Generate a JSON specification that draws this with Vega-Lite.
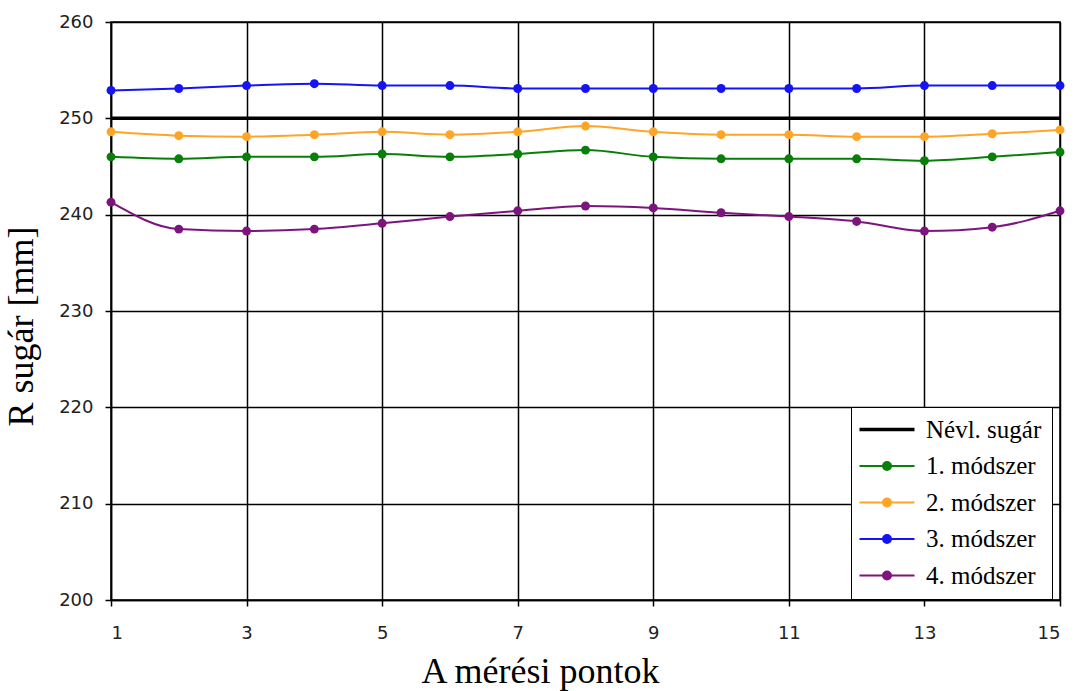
{
  "$schema": "https://vega.github.io/schema/vega-lite/v6.json",
  "width": 949,
  "height": 578,
  "autosize": "none",
  "padding": {"left": 111, "top": 22, "right": 18, "bottom": 91},
  "background": "white",
  "config": {
    "view": {"stroke": "black", "strokeWidth": 1.5},
    "axis": {
      "grid": true, "gridColor": "black", "gridWidth": 1.5, "gridOpacity": 1,
      "domainColor": "black", "domainWidth": 1.5,
      "tickColor": "black", "tickSize": 6, "tickWidth": 1.5,
      "labelFont": "DejaVu Sans", "labelFontSize": 18, "labelColor": "#222",
      "titleFont": "Liberation Serif", "titleFontSize": 36, "titleFontWeight": "normal", "titleColor": "black"
    }
  },
  "data": {"values": [
    {"pont": 1, "sorozat": "Névl. sugár", "R": 250},
    {"pont": 15, "sorozat": "Névl. sugár", "R": 250},
    {"pont": 1, "sorozat": "1. módszer", "R": 246.0},
    {"pont": 2, "sorozat": "1. módszer", "R": 245.8},
    {"pont": 3, "sorozat": "1. módszer", "R": 246.0},
    {"pont": 4, "sorozat": "1. módszer", "R": 246.0},
    {"pont": 5, "sorozat": "1. módszer", "R": 246.3},
    {"pont": 6, "sorozat": "1. módszer", "R": 246.0},
    {"pont": 7, "sorozat": "1. módszer", "R": 246.3},
    {"pont": 8, "sorozat": "1. módszer", "R": 246.7},
    {"pont": 9, "sorozat": "1. módszer", "R": 246.0},
    {"pont": 10, "sorozat": "1. módszer", "R": 245.8},
    {"pont": 11, "sorozat": "1. módszer", "R": 245.8},
    {"pont": 12, "sorozat": "1. módszer", "R": 245.8},
    {"pont": 13, "sorozat": "1. módszer", "R": 245.6},
    {"pont": 14, "sorozat": "1. módszer", "R": 246.0},
    {"pont": 15, "sorozat": "1. módszer", "R": 246.5},
    {"pont": 1, "sorozat": "2. módszer", "R": 248.6},
    {"pont": 2, "sorozat": "2. módszer", "R": 248.2},
    {"pont": 3, "sorozat": "2. módszer", "R": 248.1},
    {"pont": 4, "sorozat": "2. módszer", "R": 248.3},
    {"pont": 5, "sorozat": "2. módszer", "R": 248.6},
    {"pont": 6, "sorozat": "2. módszer", "R": 248.3},
    {"pont": 7, "sorozat": "2. módszer", "R": 248.6},
    {"pont": 8, "sorozat": "2. módszer", "R": 249.2},
    {"pont": 9, "sorozat": "2. módszer", "R": 248.6},
    {"pont": 10, "sorozat": "2. módszer", "R": 248.3},
    {"pont": 11, "sorozat": "2. módszer", "R": 248.3},
    {"pont": 12, "sorozat": "2. módszer", "R": 248.1},
    {"pont": 13, "sorozat": "2. módszer", "R": 248.1},
    {"pont": 14, "sorozat": "2. módszer", "R": 248.4},
    {"pont": 15, "sorozat": "2. módszer", "R": 248.8},
    {"pont": 1, "sorozat": "3. módszer", "R": 252.9},
    {"pont": 2, "sorozat": "3. módszer", "R": 253.1},
    {"pont": 3, "sorozat": "3. módszer", "R": 253.4},
    {"pont": 4, "sorozat": "3. módszer", "R": 253.6},
    {"pont": 5, "sorozat": "3. módszer", "R": 253.4},
    {"pont": 6, "sorozat": "3. módszer", "R": 253.4},
    {"pont": 7, "sorozat": "3. módszer", "R": 253.1},
    {"pont": 8, "sorozat": "3. módszer", "R": 253.1},
    {"pont": 9, "sorozat": "3. módszer", "R": 253.1},
    {"pont": 10, "sorozat": "3. módszer", "R": 253.1},
    {"pont": 11, "sorozat": "3. módszer", "R": 253.1},
    {"pont": 12, "sorozat": "3. módszer", "R": 253.1},
    {"pont": 13, "sorozat": "3. módszer", "R": 253.4},
    {"pont": 14, "sorozat": "3. módszer", "R": 253.4},
    {"pont": 15, "sorozat": "3. módszer", "R": 253.4},
    {"pont": 1, "sorozat": "4. módszer", "R": 241.3},
    {"pont": 2, "sorozat": "4. módszer", "R": 238.5},
    {"pont": 3, "sorozat": "4. módszer", "R": 238.3},
    {"pont": 4, "sorozat": "4. módszer", "R": 238.5},
    {"pont": 5, "sorozat": "4. módszer", "R": 239.1},
    {"pont": 6, "sorozat": "4. módszer", "R": 239.8},
    {"pont": 7, "sorozat": "4. módszer", "R": 240.4},
    {"pont": 8, "sorozat": "4. módszer", "R": 240.9},
    {"pont": 9, "sorozat": "4. módszer", "R": 240.7},
    {"pont": 10, "sorozat": "4. módszer", "R": 240.2},
    {"pont": 11, "sorozat": "4. módszer", "R": 239.8},
    {"pont": 12, "sorozat": "4. módszer", "R": 239.3},
    {"pont": 13, "sorozat": "4. módszer", "R": 238.3},
    {"pont": 14, "sorozat": "4. módszer", "R": 238.7},
    {"pont": 15, "sorozat": "4. módszer", "R": 240.4}
  ]},
  "encoding": {
    "x": {
      "field": "pont", "type": "quantitative",
      "scale": {"domain": [1, 15], "nice": false, "zero": false},
      "axis": {"values": [1, 3, 5, 7, 9, 11, 13, 15], "title": "A mérési pontok", "titleX": 429, "titleY": 82, "titleBaseline": "alphabetic", "labelPadding": 18}
    },
    "y": {
      "field": "R", "type": "quantitative",
      "scale": {"domain": [200, 260], "nice": false, "zero": false},
      "axis": {"values": [200, 210, 220, 230, 240, 250, 260], "title": "R sugár [mm]", "titlePadding": 18, "titleY": 304, "labelPadding": 12}
    },
    "color": {
      "field": "sorozat", "type": "nominal",
      "scale": {
        "domain": ["Névl. sugár", "1. módszer", "2. módszer", "3. módszer", "4. módszer"],
        "range": ["#000000", "#087f08", "#ffa526", "#1414f5", "#7d147d"]
      },
      "legend": {
        "title": null, "orient": "none", "legendX": 740, "legendY": 385,
        "strokeColor": "black", "fillColor": "white", "padding": 10,
        "labelFont": "Liberation Serif", "labelFontSize": 25, "labelColor": "black",
        "symbolSize": 400, "symbolType": "M-1.4,0H4.1", "symbolStrokeWidth": 2,
        "labelOffset": 40, "rowPadding": 10.5,
        "encode": {
          "symbols": {"update": {
            "shape": {"signal": "datum.value === 'Névl. sugár' ? 'M-1.4,0H4.1' : 'M-1.4,0H0.95A0.4,0.4 0 1,1 1.75,0H4.1M1.75,0A0.4,0.4 0 1,1 0.95,0'"},
            "fill": {"signal": "scale('color', datum.value)"},
            "stroke": {"signal": "scale('color', datum.value)"},
            "strokeWidth": {"signal": "datum.value === 'Névl. sugár' ? 3.5 : 2"},
            "opacity": {"value": 1}
          }}
        }
      }
    }
  },
  "layer": [
    {
      "transform": [{"filter": "datum.sorozat === 'Névl. sugár'"}],
      "mark": {"type": "line", "strokeWidth": 3.5}
    },
    {
      "transform": [{"filter": "datum.sorozat !== 'Névl. sugár'"}],
      "mark": {"type": "line", "strokeWidth": 2, "interpolate": "monotone"}
    },
    {
      "transform": [{"filter": "datum.sorozat !== 'Névl. sugár'"}],
      "mark": {"type": "point", "filled": true, "opacity": 1, "size": 80}
    }
  ]
}
